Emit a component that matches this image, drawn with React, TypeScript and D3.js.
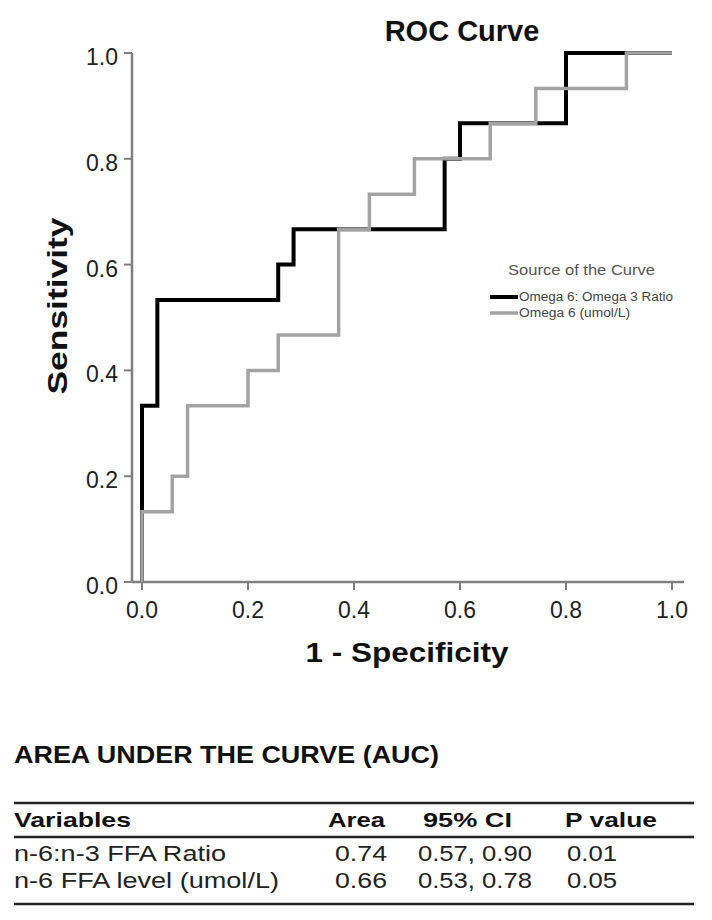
import React from "react";
import * as d3 from "d3";

// ---- data ----
const seriesNames = ["Omega 6: Omega 3 Ratio", "Omega 6 (umol/L)"];
const fprRatio = [0, 0, 0.029, 0.257, 0.286, 0.571, 0.6, 0.8, 1.0];
const tprRatio = [0, 0.333, 0.533, 0.6, 0.667, 0.8, 0.867, 1.0, 1.0];
const fprOmega6 = [0, 0, 0.057, 0.086, 0.2, 0.257, 0.371, 0.429, 0.514, 0.657, 0.743, 0.914, 1.0];
const tprOmega6 = [0, 0.133, 0.2, 0.333, 0.4, 0.467, 0.667, 0.733, 0.8, 0.867, 0.933, 1.0, 1.0];
const axisTicks = [0, 0.2, 0.4, 0.6, 0.8, 1.0];

const tableTitle = "AREA UNDER THE CURVE (AUC)";
const tableHeaders = ["Variables", "Area", "95% CI", "P value"];
const tableVariables = ["n-6:n-3 FFA Ratio", "n-6 FFA level (umol/L)"];
const tableArea = ["0.74", "0.66"];
const tableCI = ["0.57, 0.90", "0.53, 0.78"];
const tableP = ["0.01", "0.05"];

const FONT = "'Liberation Sans', Arial, Helvetica, sans-serif";

export default function App() {
  const x = d3.scaleLinear().domain([0, 1]).range([142, 672]);
  const y = d3.scaleLinear().domain([0, 1]).range([582, 53]);
  const line = d3
    .line<[number, number]>()
    .x((d) => x(d[0]))
    .y((d) => y(d[1]))
    .curve(d3.curveStepAfter);

  const ratioPts = fprRatio.map((f, i) => [f, tprRatio[i]] as [number, number]);
  const omegaPts = fprOmega6.map((f, i) => [f, tprOmega6[i]] as [number, number]);
  const fmt = d3.format(".1f");
  const axisColor = "#7f7f7f";
  const grayColor = "#a3a3a3";

  const rowBase = [861, 888];
  const varW = [212, 265];

  return (
    <svg
      width={712}
      height={920}
      style={{ position: "absolute", left: 0, top: 0, background: "#fff" }}
      fontFamily={FONT}
    >
      <rect width={712} height={920} fill="#fff" />
      {/* title */}
      <text x={462} y={41} textAnchor="middle" fontSize={29} fontWeight="bold" fill="#111">
        ROC Curve
      </text>

      {/* y axis */}
      <line x1={132} x2={132} y1={y(1)} y2={y(0)} stroke={axisColor} strokeWidth={2.5} />
      {axisTicks.map((t) => (
        <g key={"yt" + t}>
          <line x1={124} x2={132} y1={y(t)} y2={y(t)} stroke={axisColor} strokeWidth={2} />
          <text x={118} y={y(t) + 12} textAnchor="end" fontSize={23} fill="#222">
            {fmt(t)}
          </text>
        </g>
      ))}
      {/* x axis */}
      <line x1={132} x2={684} y1={y(0)} y2={y(0)} stroke={axisColor} strokeWidth={2.5} />
      {axisTicks.map((t) => (
        <g key={"xt" + t}>
          <line x1={x(t)} x2={x(t)} y1={y(0)} y2={y(0) + 8} stroke={axisColor} strokeWidth={2} />
          <text x={x(t)} y={618} textAnchor="middle" fontSize={23} fill="#222">
            {fmt(t)}
          </text>
        </g>
      ))}

      {/* axis titles */}
      <text
        x={407}
        y={662}
        textAnchor="middle"
        fontSize={27}
        fontWeight="bold"
        fill="#111"
        textLength={203}
        lengthAdjust="spacingAndGlyphs"
      >
        1 - Specificity
      </text>
      <text
        transform="translate(67,306) rotate(-90)"
        textAnchor="middle"
        fontSize={28}
        fontWeight="bold"
        fill="#111"
        textLength={177}
        lengthAdjust="spacingAndGlyphs"
      >
        Sensitivity
      </text>

      {/* curves */}
      <path d={line(ratioPts) || ""} fill="none" stroke="#000" strokeWidth={4} />
      <path d={line(omegaPts) || ""} fill="none" stroke={grayColor} strokeWidth={3.5} />

      {/* legend */}
      <text x={508} y={275} fontSize={15} fill="#555" textLength={147} lengthAdjust="spacingAndGlyphs">
        Source of the Curve
      </text>
      <line x1={490} x2={518} y1={297} y2={297} stroke="#000" strokeWidth={4} />
      <text x={519} y={301} fontSize={12} fill="#444" textLength={154} lengthAdjust="spacingAndGlyphs">
        {seriesNames[0]}
      </text>
      <line x1={490} x2={518} y1={313} y2={313} stroke={grayColor} strokeWidth={3.5} />
      <text x={519} y={317} fontSize={12} fill="#444" textLength={111} lengthAdjust="spacingAndGlyphs">
        {seriesNames[1]}
      </text>

      {/* table */}
      <text x={14} y={763} fontSize={24} fontWeight="bold" fill="#111" textLength={425} lengthAdjust="spacingAndGlyphs">
        {tableTitle}
      </text>
      <line x1={14} x2={694} y1={803} y2={803} stroke="#222" strokeWidth={2.5} />
      <text x={14} y={827} fontSize={21} fontWeight="bold" fill="#111" textLength={117} lengthAdjust="spacingAndGlyphs">
        {tableHeaders[0]}
      </text>
      <text x={328} y={827} fontSize={21} fontWeight="bold" fill="#111" textLength={57} lengthAdjust="spacingAndGlyphs">
        {tableHeaders[1]}
      </text>
      <text x={423} y={827} fontSize={21} fontWeight="bold" fill="#111" textLength={89} lengthAdjust="spacingAndGlyphs">
        {tableHeaders[2]}
      </text>
      <text x={565} y={827} fontSize={21} fontWeight="bold" fill="#111" textLength={92} lengthAdjust="spacingAndGlyphs">
        {tableHeaders[3]}
      </text>
      <line x1={14} x2={694} y1={837} y2={837} stroke="#222" strokeWidth={2.5} />
      {tableVariables.map((v, i) => (
        <g key={"row" + i} fontSize={22} fill="#222">
          <text x={14} y={rowBase[i]} textLength={varW[i]} lengthAdjust="spacingAndGlyphs">
            {v}
          </text>
          <text x={335} y={rowBase[i]} textLength={52} lengthAdjust="spacingAndGlyphs">
            {tableArea[i]}
          </text>
          <text x={418} y={rowBase[i]} textLength={114} lengthAdjust="spacingAndGlyphs">
            {tableCI[i]}
          </text>
          <text x={567} y={rowBase[i]} textLength={50} lengthAdjust="spacingAndGlyphs">
            {tableP[i]}
          </text>
        </g>
      ))}
      <line x1={14} x2={694} y1={904} y2={904} stroke="#222" strokeWidth={2.5} />
    </svg>
  );
}
